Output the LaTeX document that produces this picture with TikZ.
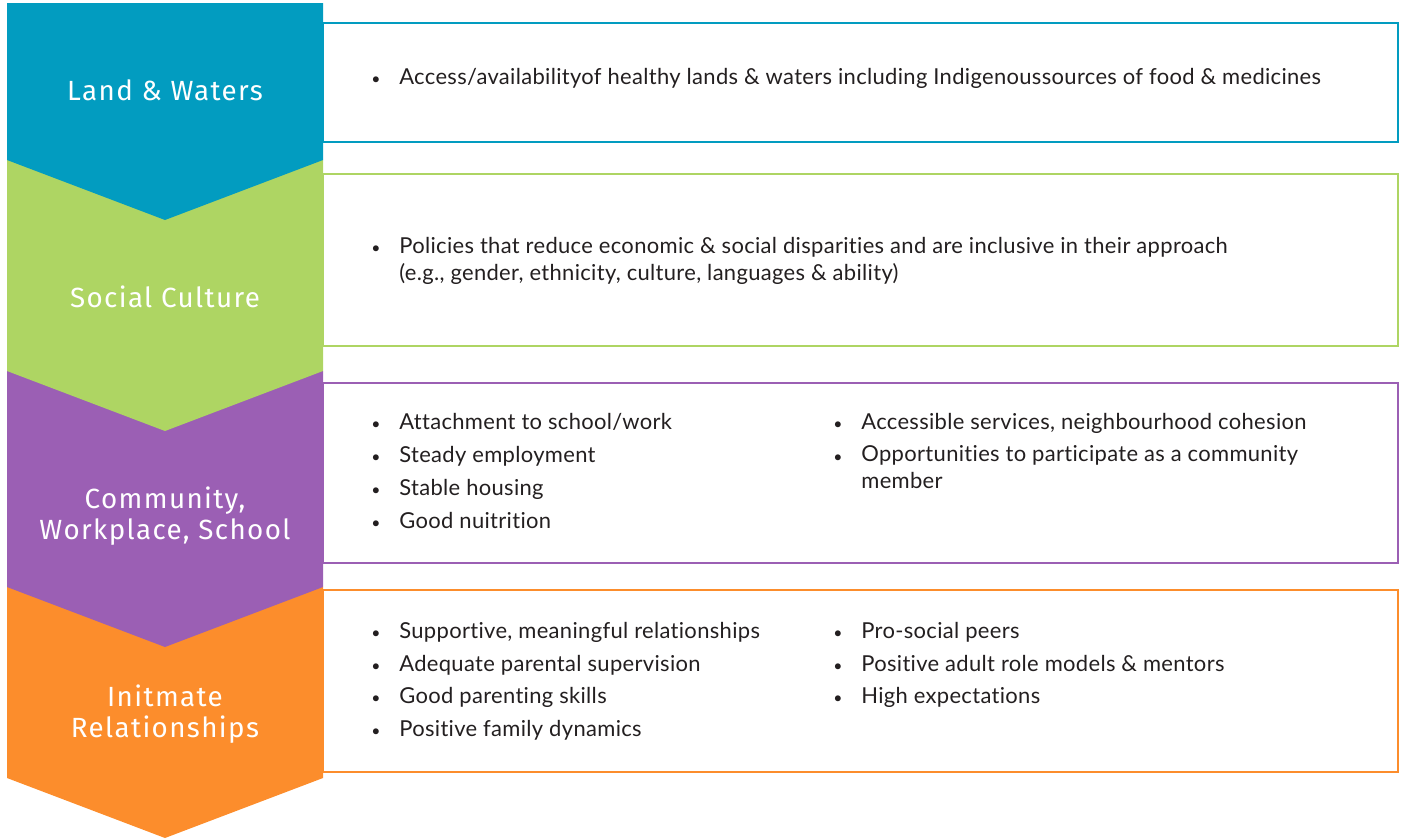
\documentclass[tikz,border=0pt]{standalone}
\usepackage{fontspec}
\setmainfont[LetterSpace=1.5,Ligatures=NoCommon]{Lato}
\newfontfamily\levelfont[LetterSpace=5]{Fira Sans}
\definecolor{lwblue}{HTML}{029CC0}
\definecolor{scgreen}{HTML}{AED563}
\definecolor{cwpurple}{HTML}{9B5FB4}
\definecolor{irorange}{HTML}{FC8D2C}
\definecolor{bodytext}{HTML}{231F20}
% chevron: fill colour, top y, shoulder y (tip hangs 60 below)
\newcommand\chevron[3]{\fill[#1] (7,#2) -- (323,#2) -- (323,#3) -- (165,{#3+60}) -- (7,#3) -- cycle;}
\begin{document}
\begin{tikzpicture}[x=0.02cm,y=-0.02cm,
  every node/.style={font=\fontsize{12.5}{15.2}\selectfont,text=bodytext,inner sep=0pt},
  level/.style={font=\levelfont\fontsize{15.8}{18}\selectfont,text=white,align=center},
  item/.style={anchor=base west,align=left},
  dot/.style={anchor=base,font=\fontsize{9}{9}\selectfont},
  frame/.style={draw=#1,line width=1.5pt}]
\useasboundingbox (0,0) rectangle (1403,839);
% chevrons, lowest first so each tip overlaps the next
\chevron{irorange}{587}{778}
\chevron{cwpurple}{371}{587}
\chevron{scgreen}{160}{371}
\chevron{lwblue}{3}{160}
% framed boxes
\draw[frame=lwblue] (323,23) rectangle (1398,142);
\draw[frame=scgreen] (323,174) rectangle (1398,346);
\draw[frame=cwpurple] (323,383) rectangle (1398,563);
\draw[frame=irorange] (323,590) rectangle (1398,772);
% level names
\node[level] (land) at (165,90) {Land \& Waters};
\node[level] (social) at (165,297) {Social Culture};
\node[level] (community) at (165,516) {Community,\\Workplace, School};
\node[level] (intimate) at (165,714) {Initmate\\Relationships};
% land & waters
\node[dot] (b1) at (376,84) {•}; \node[item] (t1) at (399,84) {Access/availabilityof healthy lands \& waters including Indigenoussources of food \& medicines};
% social culture (base of a two-line node sits on its last line)
\node[dot] (b2) at (376,253) {•}; \node[item] (t2) at (399,280) {Policies that reduce economic \& social disparities and are inclusive in their approach\\(e.g., gender, ethnicity, culture, languages \& ability)};
% community, workplace, school
\foreach \y/\txt [count=\i] in {429/Attachment to school\slash work,462/Steady employment,495/Stable housing,528/Good nuitrition}
  {\node[dot] (c\i) at (376,\y) {•}; \node[item] (ct\i) at (399,\y) {\txt};}
\node[dot] (c5) at (838,429) {•}; \node[item] (ct5) at (861,429) {Accessible services, neighbourhood cohesion};
\node[dot] (c6) at (838,462) {•}; \node[item] (ct6) at (861,488) {Opportunities to participate as a community\\member};
% intimate relationships
\foreach \y/\txt [count=\i] in {638/{Supportive, meaningful relationships},671/Adequate parental supervision,703/Good parenting skills,736/Positive family dynamics}
  {\node[dot] (r\i) at (376,\y) {•}; \node[item] (rt\i) at (399,\y) {\txt};}
\foreach \y/\txt [count=\i from 5] in {638/Pro-social peers,671/Positive adult role models \& mentors,703/High expectations}
  {\node[dot] (r\i) at (838,\y) {•}; \node[item] (rt\i) at (861,\y) {\txt};}
\end{tikzpicture}
\end{document}
